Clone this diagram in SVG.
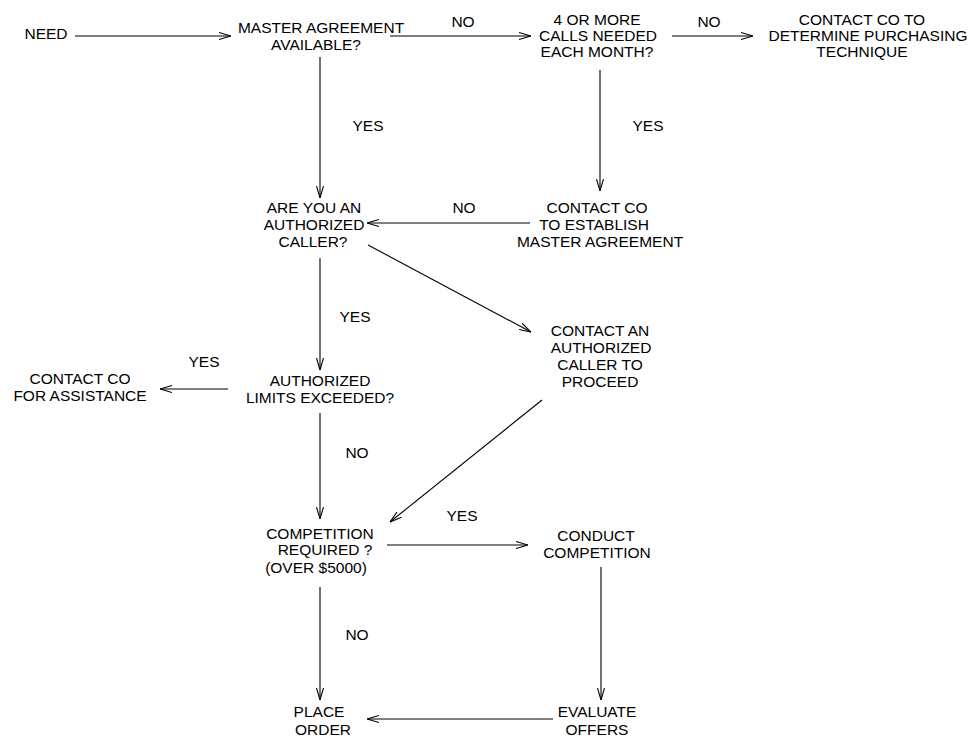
<svg xmlns="http://www.w3.org/2000/svg" width="974" height="738" viewBox="0 0 974 738">
<defs>
<marker id="arr" viewBox="0 0 12 8" refX="12" refY="4" markerWidth="12" markerHeight="8" markerUnits="userSpaceOnUse" orient="auto">
<path d="M0,0.5 L12,4 L0,7.5" fill="none" stroke="#000" stroke-width="1.1"/>
</marker>
<style>
text{font-family:"Liberation Sans",Arial,sans-serif;font-size:15.5px;fill:#000;text-anchor:middle}
.c line{stroke:#000;stroke-width:1.1;marker-end:url(#arr)}
</style>
</defs>
<rect width="974" height="738" fill="#fff"/>
<g id="connectors" class="c">
<line x1="75" y1="36" x2="231" y2="36"/>
<line x1="390" y1="36" x2="531" y2="36"/>
<line x1="672" y1="36" x2="753" y2="36"/>
<line x1="320" y1="57" x2="320" y2="198"/>
<line x1="600" y1="70" x2="600" y2="191"/>
<line x1="530" y1="223" x2="367" y2="223"/>
<line x1="368" y1="245" x2="531" y2="332"/>
<line x1="320" y1="258" x2="320" y2="370"/>
<line x1="228" y1="389" x2="160" y2="389"/>
<line x1="320" y1="413" x2="320" y2="519"/>
<line x1="542" y1="400" x2="390" y2="522"/>
<line x1="387" y1="545" x2="528" y2="545"/>
<line x1="320" y1="587" x2="320" y2="700"/>
<line x1="601" y1="567" x2="601" y2="700"/>
<line x1="553" y1="719" x2="367" y2="719"/>
</g>
<g id="labels">
<text x="463" y="27">NO</text>
<text x="709" y="27">NO</text>
<text x="368" y="131">YES</text>
<text x="648" y="131">YES</text>
<text x="464" y="213">NO</text>
<text x="355" y="322">YES</text>
<text x="204" y="367">YES</text>
<text x="357" y="458">NO</text>
<text x="462" y="521">YES</text>
<text x="357" y="640">NO</text>
</g>
<g id="need"><text x="46" y="39">NEED</text></g>
<g id="master"><text x="321" y="33">MASTER AGREEMENT</text><text x="316" y="50">AVAILABLE?</text></g>
<g id="calls"><text x="597" y="25">4 OR MORE</text><text x="598" y="41">CALLS NEEDED</text><text x="597" y="57">EACH MONTH?</text></g>
<g id="determine"><text x="862" y="25">CONTACT CO TO</text><text x="868" y="41">DETERMINE PURCHASING</text><text x="862" y="57">TECHNIQUE</text></g>
<g id="authorized-caller"><text x="314" y="213">ARE YOU AN</text><text x="314" y="230">AUTHORIZED</text><text x="313" y="247">CALLER?</text></g>
<g id="establish"><text x="597" y="213">CONTACT CO</text><text x="594" y="230">TO ESTABLISH</text><text x="600" y="247">MASTER AGREEMENT</text></g>
<g id="contact-caller"><text x="600" y="336">CONTACT AN</text><text x="601" y="353">AUTHORIZED</text><text x="600" y="370">CALLER TO</text><text x="600" y="387">PROCEED</text></g>
<g id="limits"><text x="320" y="386">AUTHORIZED</text><text x="320" y="403">LIMITS EXCEEDED?</text></g>
<g id="assistance"><text x="80" y="384">CONTACT CO</text><text x="80" y="401">FOR ASSISTANCE</text></g>
<g id="competition"><text x="320" y="539">COMPETITION</text><text x="325" y="555">REQUIRED ?</text><text x="316" y="573">(OVER $5000)</text></g>
<g id="conduct"><text x="596" y="541">CONDUCT</text><text x="597" y="558">COMPETITION</text></g>
<g id="place"><text x="319" y="717">PLACE</text><text x="323" y="735">ORDER</text></g>
<g id="evaluate"><text x="597" y="717">EVALUATE</text><text x="597" y="735">OFFERS</text></g>
</svg>
